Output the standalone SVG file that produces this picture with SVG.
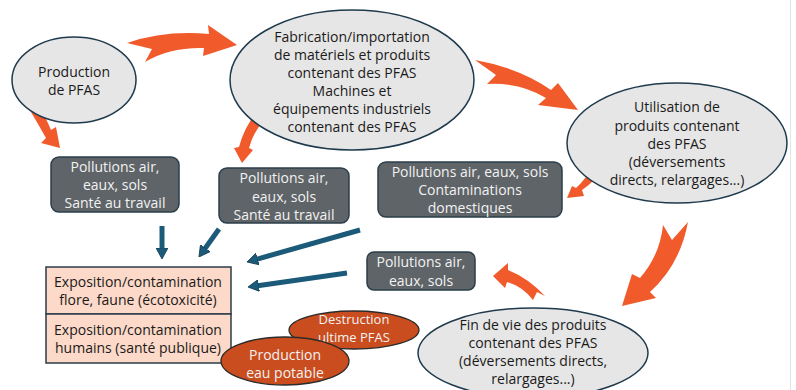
<svg xmlns="http://www.w3.org/2000/svg" width="796" height="390" viewBox="0 0 796 390">
<defs>
<style>
.t{font-family:"Open Sans","Liberation Sans",sans-serif;font-size:14px;text-anchor:middle;fill:#1a1a1a}
.w{fill:#f2f2f2}
.s{font-size:13px}
.ell{fill:#e6e6e6;stroke:#1f3a4d;stroke-width:1.5}
.gbox{fill:#5f6468;stroke:#2b3e4b;stroke-width:1.5}
.pbox{fill:#fcd9c8;stroke:#2b3d4a;stroke-width:1.5}
.oell{fill:#c94d1e;stroke:#2b2b2b;stroke-width:1.3}
.big{fill:#f15a2b}
.blue{stroke:#1b5a78;stroke-width:5;fill:none;marker-end:url(#bh)}
</style>
<marker id="bh" markerUnits="userSpaceOnUse" viewBox="0 0 11 12" refX="3" refY="6" markerWidth="11" markerHeight="12" orient="auto">
<path d="M0,0 L11,6 L0,12 z" fill="#1b5a78" stroke="#123c52" stroke-width="0.8"/>
</marker>
</defs>
<rect width="796" height="390" fill="#ffffff"/>
<line x1="790.5" y1="0" x2="790.5" y2="390" stroke="#e4e4e4" stroke-width="1"/>

<g id="connectors">
<path class="big" d="M127,43 Q165,30 209,34 L208,25 L237,45 L203,56 L204,48 Q170,47 145,62 L152,49 Z"/>
<path class="big" d="M475,60 Q520,68 551,90 L558,83 L578,110 L538,105 L546,98 Q520,82 487,84 L496,75 Z"/>
<path class="big" d="M688,222 Q680,265 650,292 L656,298 L622,306 L632,274 L640,278 Q660,255 663,225 L672,240 Z"/>
<path class="big" d="M28,107 L34,113 L38,104 Q46,118 51,130 L56,127 L60,148 L41,143 L46,138 Q37,122 28,107 Z"/>
<path class="big" d="M256,113 L261,120 L267,116 Q253,132 249,148 L253,150 L242,163 L234,148 L239,147 Q244,128 256,113 Z"/>
<path class="big" d="M592,166 L598,170 L604,165 Q595,182 582,190 L584,196 L567,198 L572,186 L576,188 Q587,178 592,166 Z"/>
<path class="big" d="M493,276 L508,263 L508,270 Q528,278 545,296 L537,292 L533,300 Q522,286 507,282 L505,288 Z"/>
<line class="blue" x1="162" y1="226" x2="162" y2="251"/>
<line class="blue" x1="219" y1="229" x2="203.6" y2="250.5"/>
<line class="blue" x1="360" y1="230" x2="254.7" y2="259.8"/>
<line class="blue" x1="347" y1="273" x2="255.9" y2="285.9"/>
</g>

<g id="production">
<ellipse class="ell" cx="74" cy="80" rx="62" ry="43"/>
<text class="t" x="74" y="77">Production</text>
<text class="t" x="74" y="95">de PFAS</text>
</g>

<g id="fabrication">
<ellipse class="ell" cx="352" cy="80" rx="122" ry="70"/>
<text class="t" x="352" y="42">Fabrication/importation</text>
<text class="t" x="352" y="60">de matériels et produits</text>
<text class="t" x="352" y="78">contenant des PFAS</text>
<text class="t" x="352" y="96">Machines et</text>
<text class="t" x="352" y="114">équipements industriels</text>
<text class="t" x="352" y="132">contenant des PFAS</text>
</g>

<g id="utilisation">
<ellipse class="ell" cx="677" cy="143" rx="110" ry="60"/>
<text class="t" x="677" y="112">Utilisation de</text>
<text class="t" x="677" y="131">produits contenant</text>
<text class="t" x="677" y="149">des PFAS</text>
<text class="t" x="677" y="167">(déversements</text>
<text class="t" x="677" y="185">directs, relargages...)</text>
</g>

<g id="findevie">
<ellipse class="ell" cx="533" cy="353" rx="115" ry="45"/>
<text class="t" x="533" y="330">Fin de vie des produits</text>
<text class="t" x="533" y="348">contenant  des PFAS</text>
<text class="t" x="533" y="366">(déversements directs,</text>
<text class="t" x="533" y="384">relargages...)</text>
</g>

<g id="pollution1">
<rect class="gbox" x="51" y="157" width="128" height="55" rx="8"/>
<text class="t w" x="115" y="172">Pollutions air,</text>
<text class="t w" x="115" y="190">eaux, sols</text>
<text class="t w" x="115" y="208">Santé au travail</text>
</g>

<g id="pollution2">
<rect class="gbox" x="219" y="168" width="130" height="55" rx="8"/>
<text class="t w" x="284" y="183">Pollutions air,</text>
<text class="t w" x="284" y="202">eaux, sols</text>
<text class="t w" x="284" y="220">Santé au travail</text>
</g>

<g id="pollution3">
<rect class="gbox" x="378" y="162" width="184" height="55" rx="8"/>
<text class="t w" x="470" y="177">Pollutions air, eaux, sols</text>
<text class="t w" x="470" y="195">Contaminations</text>
<text class="t w" x="470" y="213">domestiques</text>
</g>

<g id="pollution4">
<rect class="gbox" x="367" y="252" width="108" height="38" rx="7"/>
<text class="t w" x="421" y="267">Pollutions air,</text>
<text class="t w" x="421" y="286">eaux, sols</text>
</g>

<g id="exposition-flore">
<rect class="pbox" x="46" y="267" width="185" height="47"/>
<text class="t" x="138" y="287">Exposition/contamination</text>
<text class="t" x="138" y="305">flore, faune (écotoxicité)</text>
</g>

<g id="exposition-humains">
<rect class="pbox" x="46" y="314" width="185" height="49"/>
<text class="t" x="138" y="335">Exposition/contamination</text>
<text class="t" x="138" y="353">humains (santé publique)</text>
</g>

<g id="destruction">
<ellipse class="oell" cx="354" cy="330" rx="65" ry="19"/>
<text class="t w s" x="354" y="324">Destruction</text>
<text class="t w s" x="354" y="342">ultime PFAS</text>
</g>

<g id="eau-potable">
<ellipse class="oell" cx="285" cy="361" rx="64" ry="24"/>
<text class="t w" x="285" y="360">Production</text>
<text class="t w" x="285" y="378">eau potable</text>
</g>
</svg>
